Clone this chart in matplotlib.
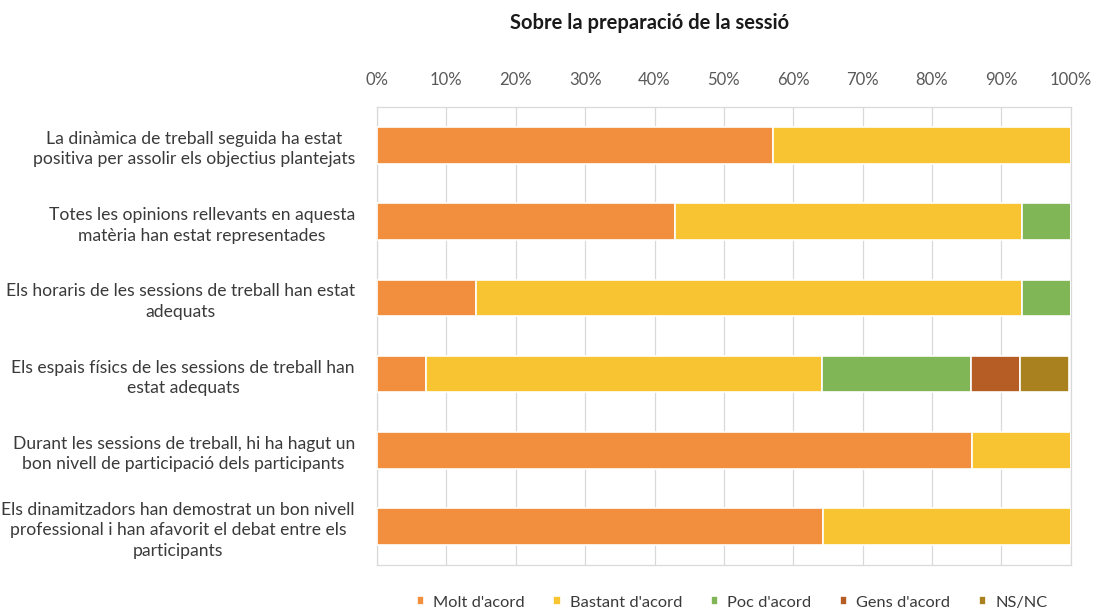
import matplotlib.pyplot as plt
import numpy as np

plt.rcParams['font.family'] = ['Lato', 'DejaVu Sans']

questions = [
    "La dinàmica de treball seguida ha estat\npositiva per assolir els objectius plantejats",
    "Totes les opinions rellevants en aquesta\nmatèria han estat representades",
    "Els horaris de les sessions de treball han estat\nadequats",
    "Els espais físics de les sessions de treball han\nestat adequats",
    "Durant les sessions de treball, hi ha hagut un\nbon nivell de participació dels participants",
    "Els dinamitzadors han demostrat un bon nivell\nprofessional i han afavorit el debat entre els\nparticipants",
]
categories = ["Molt d'acord", "Bastant d'acord", "Poc d'acord", "Gens d'acord", "NS/NC"]

# percentatges per pregunta (llegits del gràfic)
molt = [57.1, 42.9, 14.3, 7.1, 85.7, 64.3]
bastant = [42.9, 50.0, 78.6, 57.1, 14.3, 35.7]
poc = [0.0, 7.1, 7.1, 21.4, 0.0, 0.0]
gens = [0.0, 0.0, 0.0, 7.1, 0.0, 0.0]
nsnc = [0.0, 0.0, 0.0, 7.1, 0.0, 0.0]

colors = ['#F28F3F', '#F8C431', '#80B656', '#B55D24', '#A9821F']

fig = plt.figure(figsize=(10.96, 6.13), dpi=100)
ax = fig.add_axes([0.344, 0.079, 0.633, 0.746])

y = np.arange(len(questions))
left = np.zeros(len(questions))
for serie, col, name in zip([molt, bastant, poc, gens, nsnc], colors, categories):
    vals = np.array(serie)
    ax.barh(y, vals, left=left, height=0.48, color=col, edgecolor='white',
            linewidth=1.2, label=name, zorder=3)
    left += vals

ax.set_xlim(0, 100)
ax.set_ylim(len(questions) - 0.5, -0.5)
ax.set_xticks(np.arange(0, 101, 10))
ax.set_xticklabels([f'{v}%' for v in range(0, 101, 10)])
ax.xaxis.tick_top()
ax.tick_params(axis='x', length=0, pad=14, labelsize=12, labelcolor='#595959')
ax.set_yticks(y)
ax.set_yticklabels(questions, fontsize=12.6, color='#3a3a3a', linespacing=1.35)
for lbl in ax.get_yticklabels():
    lbl.set_multialignment('center')
ax.tick_params(axis='y', length=0, pad=16)
ax.grid(axis='x', color='#d9d9d9', linewidth=0.9, zorder=0)
for s in ax.spines.values():
    s.set_color('#d9d9d9')
    s.set_linewidth(0.9)

fig.text(0.593, 0.962, 'Sobre la preparació de la sessió', ha='center', va='center',
         fontsize=14.5, fontweight='bold', color='#1a1a1a')

leg = fig.legend(loc='center', bbox_to_anchor=(0.668, 0.017), ncol=5, frameon=False,
                 fontsize=11.8, handlelength=0.45, handleheight=0.45, columnspacing=1.75,
                 handletextpad=0.55)
for t in leg.get_texts():
    t.set_color('#3a3a3a')

fig.savefig('out.png', dpi=100)
